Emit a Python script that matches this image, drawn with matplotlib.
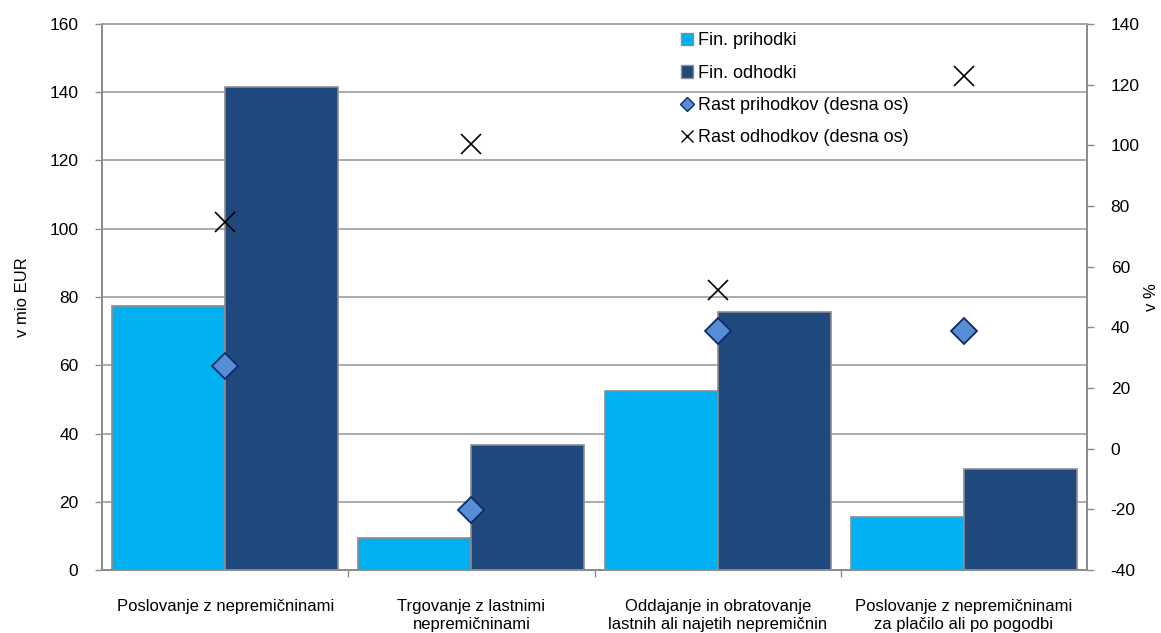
import numpy as np
import matplotlib
matplotlib.use("Agg")
import matplotlib.pyplot as plt
from matplotlib.lines import Line2D
from matplotlib.patches import Patch

plt.rcParams["font.family"] = ["Liberation Sans", "DejaVu Sans"]
plt.rcParams["axes.unicode_minus"] = False

categories = [
    "Poslovanje z nepremičninami",
    "Trgovanje z lastnimi\nnepremičninami",
    "Oddajanje in obratovanje\nlastnih ali najetih nepremičnin",
    "Poslovanje z nepremičninami\nza plačilo ali po pogodbi",
]
prihodki = [77.5, 9.4, 52.6, 15.5]       # mio EUR
odhodki = [141.6, 36.7, 75.6, 29.7]      # mio EUR
rast_prihodkov = [27.3, -20.2, 38.8, 38.9]   # %
rast_odhodkov = [74.7, 100.5, 52.3, 122.9]   # %

light = "#00B0F0"
dark = "#1F497D"
edge = "#8C8C8C"
grid = "#A6A6A6"

fig = plt.figure(figsize=(11.61, 6.33), dpi=100)
ax = fig.add_axes([0.0879, 0.0995, 0.8484, 0.8626])
ax2 = ax.twinx()

x = np.arange(len(categories))
w = 0.459
ax.bar(x - w / 2, prihodki, w, color=light, edgecolor=edge, linewidth=1.2, zorder=2)
ax.bar(x + w / 2, odhodki, w, color=dark, edgecolor=edge, linewidth=1.2, zorder=2)

ax2.plot(x, rast_prihodkov, linestyle="none", marker="D", markersize=13.5,
         markerfacecolor="#558ED5", markeredgecolor="#0E2A6A", markeredgewidth=1.3)
ax2.plot(x, rast_odhodkov, linestyle="none", marker="x", markersize=14.5,
         color="black", markeredgewidth=1.2)

ax.set_xlim(-0.5, 3.5)
ax.set_ylim(0, 160)
ax.set_yticks(np.arange(0, 161, 20))
ax2.set_ylim(-40, 140)
ax2.set_yticks(np.arange(-40, 141, 20))

ax.yaxis.grid(True, color=grid, linewidth=1.3, zorder=0)
ax.set_axisbelow(True)

ax.set_xticks(x)
ax.set_xticklabels(categories, fontsize=12, linespacing=1.2)
ax.tick_params(axis="x", which="major", length=0, pad=21)
ax.set_xticks([0.5, 1.5, 2.5], minor=True)
ax.tick_params(axis="x", which="minor", length=5, color=edge, width=1)

ax.tick_params(axis="y", labelsize=12.5, length=5, color=edge, width=1, pad=12)
ax2.tick_params(axis="y", labelsize=12.5, length=5, color=edge, width=1, pad=12)

for a in (ax, ax2):
    for side in ("left", "right", "bottom"):
        a.spines[side].set_color(edge)
        a.spines[side].set_linewidth(1.3)
    a.spines["top"].set_color(grid)
    a.spines["top"].set_linewidth(1.3)

ax.set_ylabel("v mio EUR", fontsize=12, labelpad=14)
ax2.set_ylabel("v %", fontsize=12, labelpad=3)

handles = [
    Patch(facecolor=light, edgecolor=edge, label="Fin. prihodki"),
    Patch(facecolor=dark, edgecolor=edge, label="Fin. odhodki"),
    Line2D([], [], linestyle="none", marker="D", markersize=7,
           markerfacecolor="#558ED5", markeredgecolor="#0E2A6A", label="Rast prihodkov (desna os)"),
    Line2D([], [], linestyle="none", marker="x", markersize=8, color="black",
           markeredgewidth=1, label="Rast odhodkov (desna os)"),
]
ax2.legend(handles=handles, loc="upper left", bbox_to_anchor=(0.58, 0.998),
           frameon=False, fontsize=13, handlelength=0.7, handleheight=0.7,
           handletextpad=0.25, labelspacing=0.85, borderaxespad=0)

fig.savefig("out.png", dpi=100)
